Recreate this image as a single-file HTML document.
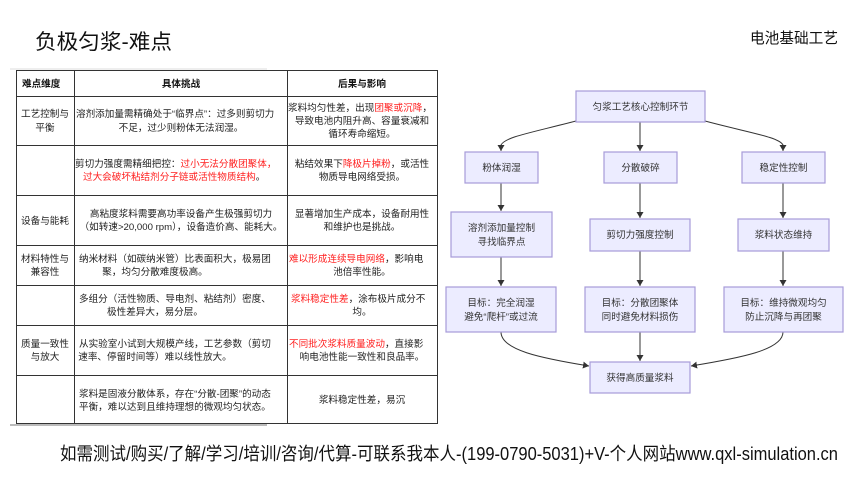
<!DOCTYPE html>
<html><head><meta charset="utf-8"><style>
html,body{margin:0;padding:0;background:#fff;}
svg{display:block;}
text{font-family:"Liberation Sans","Noto Sans CJK SC",sans-serif;}
.t{font-size:9.6px;fill:#222;}
.r{fill:#ff2020;}
.h{font-size:9.6px;font-weight:bold;fill:#111;}
.n{font-size:9.6px;fill:#333;}
.box{fill:#ececff;stroke:#a79bd9;stroke-width:1.2;}
.ln{stroke:#333;stroke-width:1;fill:none;}
</style></head><body>
<svg width="860" height="484" viewBox="0 0 860 484" xmlns="http://www.w3.org/2000/svg">
<defs><marker id="a" markerWidth="8" markerHeight="8" refX="6" refY="4" orient="auto" markerUnits="userSpaceOnUse"><path d="M0,0.5 L6,4 L0,7.5z" fill="#333"/></marker></defs>
<text x="35" y="49" font-size="21" fill="#111" textLength="137" lengthAdjust="spacingAndGlyphs">负极匀浆-难点</text>
<text x="838" y="43" font-size="15" fill="#111" text-anchor="end" textLength="88" lengthAdjust="spacingAndGlyphs">电池基础工艺</text>
<line x1="10" y1="69" x2="267" y2="69" stroke="#ddd"/>
<!-- table -->
<g stroke="#333" stroke-width="1" fill="none">
<rect x="16.5" y="70.5" width="421" height="353"/>
<line x1="74.5" y1="70" x2="74.5" y2="424"/>
<line x1="287.5" y1="70" x2="287.5" y2="424"/>
<line x1="16" y1="96.5" x2="438" y2="96.5"/>
<line x1="16" y1="145.5" x2="438" y2="145.5"/>
<line x1="16" y1="195.5" x2="438" y2="195.5"/>
<line x1="16" y1="245.5" x2="438" y2="245.5"/>
<line x1="16" y1="285.5" x2="438" y2="285.5"/>
<line x1="16" y1="325.5" x2="438" y2="325.5"/>
<line x1="16" y1="375.5" x2="438" y2="375.5"/>
</g>
<line x1="10" y1="425" x2="267" y2="425" stroke="#777"/>
<text class="h" x="22" y="87">难点维度</text>
<text class="h" x="181" y="87" text-anchor="middle">具体挑战</text>
<text class="h" x="362" y="87" text-anchor="middle">后果与影响</text>

<text class="t" x="45" y="117" text-anchor="middle">工艺控制与</text>
<text class="t" x="45" y="131" text-anchor="middle">平衡</text>
<text class="t" x="76" y="117">溶剂添加量需精确处于“临界点”：过多则剪切力</text>
<text class="t" x="181" y="131" text-anchor="middle">不足，过少则粉体无法润湿。</text>
<text class="t" x="288" y="111">浆料均匀性差，出现<tspan class="r">团聚或沉降</tspan>，</text>
<text class="t" x="362" y="124" text-anchor="middle">导致电池内阻升高、容量衰减和</text>
<text class="t" x="362" y="137" text-anchor="middle">循环寿命缩短。</text>

<text class="t" x="75" y="167">剪切力强度需精细把控：<tspan class="r">过小无法分散团聚体，</tspan></text>
<text class="t" x="83" y="180"><tspan class="r">过大会破坏粘结剂分子链或活性物质结构</tspan>。</text>
<text class="t" x="362" y="167" text-anchor="middle">粘结效果下<tspan class="r">降极片掉粉</tspan>，或活性</text>
<text class="t" x="362" y="180" text-anchor="middle">物质导电网络受损。</text>

<text class="t" x="45" y="224" text-anchor="middle">设备与能耗</text>
<text class="t" x="181" y="217" text-anchor="middle">高粘度浆料需要高功率设备产生极强剪切力</text>
<text class="t" x="181" y="230" text-anchor="middle">（如转速&gt;20,000 rpm），设备造价高、能耗大。</text>
<text class="t" x="362" y="217" text-anchor="middle">显著增加生产成本，设备耐用性</text>
<text class="t" x="362" y="230" text-anchor="middle">和维护也是挑战。</text>

<text class="t" x="45" y="262" text-anchor="middle">材料特性与</text>
<text class="t" x="45" y="275" text-anchor="middle">兼容性</text>
<text class="t" x="79" y="262">纳米材料（如碳纳米管）比表面积大，极易团</text>
<text class="t" x="155" y="275" text-anchor="middle">聚，均匀分散难度极高。</text>
<text class="t" x="289" y="262"><tspan class="r">难以形成连续导电网络</tspan>，影响电</text>
<text class="t" x="362" y="275" text-anchor="middle">池倍率性能。</text>

<text class="t" x="79" y="302">多组分（活性物质、导电剂、粘结剂）密度、</text>
<text class="t" x="155" y="315" text-anchor="middle">极性差异大，易分层。</text>
<text class="t" x="291" y="302"><tspan class="r">浆料稳定性差</tspan>，涂布极片成分不</text>
<text class="t" x="362" y="315" text-anchor="middle">均。</text>

<text class="t" x="45" y="347" text-anchor="middle">质量一致性</text>
<text class="t" x="45" y="360" text-anchor="middle">与放大</text>
<text class="t" x="79" y="347">从实验室小试到大规模产线，工艺参数（剪切</text>
<text class="t" x="155" y="360" text-anchor="middle">速率、停留时间等）难以线性放大。</text>
<text class="t" x="289" y="347"><tspan class="r">不同批次浆料质量波动</tspan>，直接影</text>
<text class="t" x="362" y="360" text-anchor="middle">响电池性能一致性和良品率。</text>

<text class="t" x="79" y="397">浆料是固液分散体系，存在“分散-团聚”的动态</text>
<text class="t" x="79" y="410">平衡，难以达到且维持理想的微观均匀状态。</text>
<text class="t" x="362" y="403" text-anchor="middle">浆料稳定性差，易沉</text>

<!-- flowchart connectors -->
<path class="ln" marker-end="url(#a)" d="M576,121 C530,133 505,137 501,145 L501,151"/>
<path class="ln" marker-end="url(#a)" d="M640,122 L640,151"/>
<path class="ln" marker-end="url(#a)" d="M705,121 C750,133 779,137 783,145 L783,151"/>
<path class="ln" marker-end="url(#a)" d="M501,183 L501,211"/>
<path class="ln" marker-end="url(#a)" d="M640,183 L640,218"/>
<path class="ln" marker-end="url(#a)" d="M783,183 L783,218"/>
<path class="ln" marker-end="url(#a)" d="M501,257 L501,286"/>
<path class="ln" marker-end="url(#a)" d="M640,251 L640,286"/>
<path class="ln" marker-end="url(#a)" d="M783,251 L783,286"/>
<path class="ln" marker-end="url(#a)" d="M501,332 C501,350 540,358 589,366"/>
<path class="ln" marker-end="url(#a)" d="M640,332 L640,361"/>
<path class="ln" marker-end="url(#a)" d="M783,332 C783,350 740,358 691,366"/>
<!-- boxes -->
<rect class="box" x="576" y="91" width="129" height="31"/>
<text class="n" x="640.5" y="110" text-anchor="middle">匀浆工艺核心控制环节</text>
<rect class="box" x="465" y="152" width="73" height="31"/>
<text class="n" x="501.5" y="171" text-anchor="middle">粉体润湿</text>
<rect class="box" x="604" y="152" width="73" height="31"/>
<text class="n" x="640.5" y="171" text-anchor="middle">分散破碎</text>
<rect class="box" x="742" y="152" width="83" height="31"/>
<text class="n" x="783.5" y="171" text-anchor="middle">稳定性控制</text>
<rect class="box" x="451" y="212" width="101" height="45"/>
<text class="n" x="501.5" y="231" text-anchor="middle">溶剂添加量控制</text>
<text class="n" x="501.5" y="245" text-anchor="middle">寻找临界点</text>
<rect class="box" x="590" y="219" width="100" height="32"/>
<text class="n" x="640" y="238" text-anchor="middle">剪切力强度控制</text>
<rect class="box" x="738" y="219" width="91" height="32"/>
<text class="n" x="783.5" y="238" text-anchor="middle">浆料状态维持</text>
<rect class="box" x="446" y="287" width="110" height="45"/>
<text class="n" x="501" y="306" text-anchor="middle">目标：完全润湿</text>
<text class="n" x="501" y="320" text-anchor="middle">避免“爬杆”或过流</text>
<rect class="box" x="585" y="287" width="110" height="45"/>
<text class="n" x="640" y="306" text-anchor="middle">目标：分散团聚体</text>
<text class="n" x="640" y="320" text-anchor="middle">同时避免材料损伤</text>
<rect class="box" x="724" y="287" width="119" height="45"/>
<text class="n" x="783.5" y="306" text-anchor="middle">目标：维持微观均匀</text>
<text class="n" x="783.5" y="320" text-anchor="middle">防止沉降与再团聚</text>
<rect class="box" x="590" y="362" width="100" height="31"/>
<text class="n" x="640" y="381" text-anchor="middle">获得高质量浆料</text>

<text x="60" y="460" font-size="18" fill="#111" textLength="778" lengthAdjust="spacingAndGlyphs">如需测试/购买/了解/学习/培训/咨询/代算-可联系我本人-(199-0790-5031)+V-个人网站www.qxl-simulation.cn</text>
</svg>
</body></html>
